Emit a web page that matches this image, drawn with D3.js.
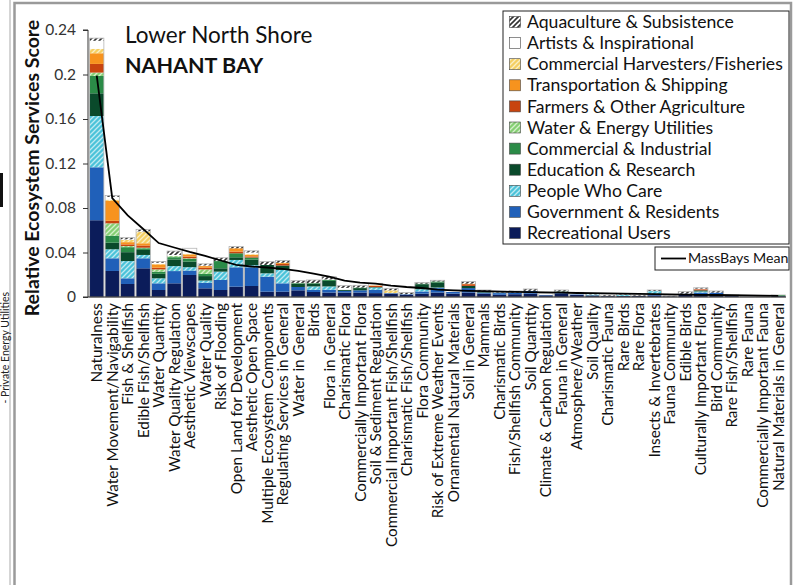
<!DOCTYPE html>
<html>
<head>
<meta charset="utf-8">
<script src="https://cdn.jsdelivr.net/npm/d3@7/dist/d3.min.js"></script>
<style>
  html, body { margin: 0; padding: 0; background: #fff; }
  svg { display: block; font-family: Lato, "Open Sans", sans-serif; }
</style>
</head>
<body>
<svg id="chart" width="793" height="585"></svg>
<script>
const categories = ["Naturalness","Water Movement/Navigability","Fish & Shellfish","Edible Fish/Shellfish","Water Quantity","Water Quality Regulation","Aesthetic Viewscapes","Water Quality","Risk of Flooding","Open Land for Development","Aesthetic Open Space","Multiple Ecosystem Components","Regulating Services in General","Water in General","Birds","Flora in General","Charismatic Flora","Commercially Important Flora","Soil & Sediment Regulation","Commercial Important Fish/Shellfish","Charismatic Fish/Shellfish","Flora Community","Risk of Extreme Weather Events","Ornamental Natural Materials","Soil in General","Mammals","Charismatic Birds","Fish/Shellfish Community","Soil Quantity","Climate & Carbon Regulation","Fauna in General","Atmosphere/Weather","Soil Quality","Charismatic Fauna","Rare Birds","Rare Flora","Insects & Invertebrates","Fauna Community","Edible Birds","Culturally Important Flora","Bird Community","Rare Fish/Shellfish","Rare Fauna","Commercially Important Fauna","Natural Materials in General"];

const seriesNames = ["Recreational Users","Government & Residents","People Who Care","Education & Research","Commercial & Industrial","Water & Energy Utilities","Farmers & Other Agriculture","Transportation & Shipping","Commercial Harvesters/Fisheries","Artists & Inspirational","Aquaculture & Subsistence"];

const recreational = [0.069,0.0234,0.0117,0.0258,0.0063,0.0123,0.0198,0.0078,0.0063,0.0093,0.0099,0.0048,0.0048,0.006,0.0045,0.004,0.004,0.004,0.0035,0.003,0.002,0.003,0.004,0.003,0.004,0.003,0.002,0.0025,0.003,0.0015,0.003,0.002,0.0015,0.0008,0.001,0.001,0.0015,0.0006,0.002,0.0025,0.0025,0.001,0.0004,0.0004,0.0008];
const government = [0.0476,0.0114,0.0051,0.009,0.006,0.011,0.004,0.005,0.009,0.0174,0.0168,0.0135,0.0075,0.003,0.002,0.0025,0.0015,0.002,0.003,0.0005,0.0005,0.002,0.004,0.0015,0.004,0.001,0.0015,0.0015,0.0025,0.0005,0.0015,0.0005,0,0,0,0,0.001,0,0.001,0.0015,0.0015,0,0,0,0];
const peopleWhoCare = [0.0461,0.0081,0.0155,0.003,0.0045,0.0045,0.003,0.002,0.0075,0.0066,0.002,0.003,0.012,0,0.003,0.003,0,0,0.002,0,0,0.002,0.0005,0,0,0,0.0005,0,0,0,0,0,0.0008,0,0.001,0,0.0028,0,0,0.001,0,0,0,0,0];
const education = [0.0204,0.0059,0.008,0.0045,0.004,0.006,0.005,0.004,0.003,0.0024,0.005,0.0075,0.004,0.003,0.0025,0.005,0.001,0.002,0.0005,0,0,0.0045,0.0045,0,0.002,0.0005,0,0,0,0,0.0005,0,0,0,0,0,0,0,0,0.001,0,0,0,0,0];
const commercialIndustrial = [0.0156,0.0063,0.0045,0.0015,0.002,0.002,0.0025,0.002,0.0065,0.0036,0.0018,0,0,0.0005,0.0005,0.001,0,0.0005,0,0,0,0.0005,0.001,0,0,0,0,0,0,0,0,0,0,0,0,0,0,0,0,0,0,0,0,0,0.001];
const waterEnergy = [0.003,0.0111,0.001,0.0005,0.002,0.001,0.0005,0.004,0,0,0,0,0,0,0,0,0,0,0,0,0,0,0,0,0,0,0,0,0,0,0,0,0,0,0,0,0,0,0,0,0,0,0,0,0];
const farmers = [0.0078,0.0023,0.0015,0.002,0.0015,0,0.0015,0.0015,0,0.0015,0.001,0,0.0015,0,0,0,0,0,0.001,0,0,0,0,0,0.0015,0,0,0,0,0,0,0,0,0,0,0,0,0,0,0.001,0,0,0,0,0];
const transportation = [0.0096,0.018,0.002,0.002,0.003,0,0.002,0.0015,0,0.003,0.0015,0,0.001,0,0,0,0,0,0.0005,0,0,0,0,0,0.0005,0,0,0,0,0,0,0,0,0,0,0,0,0,0,0,0,0,0,0,0];
const harvesters = [0.004,0.001,0.002,0.0102,0.0005,0,0.0005,0,0,0,0.0005,0,0,0,0,0,0,0,0,0.0025,0,0,0,0,0,0,0,0,0,0,0,0,0,0,0,0,0,0,0,0,0,0,0,0,0];
const artists = [0.0072,0.0025,0.0005,0.0005,0.001,0.001,0.005,0.0005,0,0,0.0015,0,0,0.0002,0,0.0003,0.0017,0,0.0013,0,0,0,0,0.0013,0,0,0,0,0,0.0013,0,0.0012,0,0,0,0,0,0,0,0.0005,0,0,0.0008,0,0];
const aquaculture = [0.0024,0.0012,0.0015,0.0018,0.0012,0.0035,0,0.0015,0.003,0.0015,0.0015,0.003,0.002,0.002,0.0028,0.0025,0.002,0.002,0.0005,0.0018,0.0015,0.001,0.001,0.0005,0.0018,0.0018,0.0014,0.0014,0.0017,0,0.0013,0.0005,0.001,0.001,0.0007,0.0008,0.001,0.0006,0.0018,0.0008,0.0014,0.0008,0,0,0];
const massBaysMean = [0.199,0.089,0.0733,0.0611,0.0485,0.0445,0.0405,0.0369,0.0328,0.0288,0.0274,0.0265,0.0252,0.0235,0.021,0.0183,0.0148,0.013,0.012,0.0103,0.009,0.0081,0.0067,0.006,0.0055,0.0052,0.0049,0.0046,0.0044,0.0041,0.0039,0.0036,0.0034,0.0032,0.003,0.0028,0.0026,0.0024,0.0022,0.002,0.0018,0.0016,0.0014,0.0012,0.001];
const yTicks = [0, 0.04, 0.08, 0.12, 0.16, 0.2, 0.24];

const seriesValues = [recreational, government, peopleWhoCare, education, commercialIndustrial, waterEnergy, farmers, transportation, harvesters, artists, aquaculture];

const fills = {
  "Recreational Users": "#0b1c5a",
  "Government & Residents": "#2060b9",
  "People Who Care": "url(#hatchCyan)",
  "Education & Research": "#0a4a2b",
  "Commercial & Industrial": "#2b8b47",
  "Water & Energy Utilities": "url(#hatchGreen)",
  "Farmers & Other Agriculture": "#c8440f",
  "Transportation & Shipping": "#f7931e",
  "Commercial Harvesters/Fisheries": "url(#hatchYellow)",
  "Artists & Inspirational": "#ffffff",
  "Aquaculture & Subsistence": "url(#hatchGray)"
};

const svg = d3.select("#chart");
const defs = svg.append("defs");
function hatch(id, bg, fg, w) {
  const p = defs.append("pattern").attr("id", id).attr("patternUnits", "userSpaceOnUse")
    .attr("width", 5).attr("height", 5);
  p.append("rect").attr("width", 5).attr("height", 5).attr("fill", bg);
  p.append("path").attr("d", "M-1,1 L1,-1 M0,5 L5,0 M4,6 L6,4")
    .attr("stroke", fg).attr("stroke-width", w);
}
hatch("hatchCyan", "#4cc3d9", "#bfeaf2", 1.3);
hatch("hatchGreen", "#86cf74", "#d5f0cc", 1.3);
hatch("hatchYellow", "#f5cf62", "#fbefc4", 1.3);
hatch("hatchGray", "#ffffff", "#333333", 1.6);

// panel decorations
svg.append("line").attr("x1", 10).attr("x2", 10).attr("y1", 0).attr("y2", 585).attr("stroke", "#aaa").attr("stroke-width", 1);
svg.append("rect").attr("x", 0).attr("y", 173).attr("width", 3).attr("height", 34).attr("fill", "#111");
svg.append("text").attr("transform", "translate(8.5,292) rotate(-90)").attr("text-anchor", "end")
  .attr("font-size", 10.5).attr("fill", "#222").text("- Private Energy Utilities");
svg.append("rect").attr("x", 14.5).attr("y", 3).attr("width", 776.5).attr("height", 620)
  .attr("fill", "none").attr("stroke", "#9a9a9a").attr("stroke-width", 2.5);

const x = d3.scaleBand().domain(categories).range([89, 786]).paddingInner(0.08).paddingOuter(0.04);
const y = d3.scaleLinear().domain([0, 0.24]).range([297, 30]);

const table = categories.map((c, i) => {
  const row = { category: c };
  seriesNames.forEach((s, k) => row[s] = seriesValues[k][i]);
  return row;
});
const stacked = d3.stack().keys(seriesNames)(table);

const g = svg.append("g");
stacked.forEach(layer => {
  g.append("g").attr("fill", fills[layer.key])
    .selectAll("rect").data(layer).join("rect")
    .attr("x", d => x(d.data.category))
    .attr("width", x.bandwidth())
    .attr("y", d => y(d[1]))
    .attr("height", d => Math.max(0, y(d[0]) - y(d[1])));
});
// bar outlines
g.append("g").selectAll("rect").data(table).join("rect")
  .attr("x", d => x(d.category))
  .attr("width", x.bandwidth())
  .attr("y", d => y(d3.sum(seriesNames, s => d[s])))
  .attr("height", d => y(0) - y(d3.sum(seriesNames, s => d[s])))
  .attr("fill", "none").attr("stroke", "#b5b5b5").attr("stroke-width", 0.8);

// mean line
const line = d3.line().x((d, i) => x(categories[i]) + x.bandwidth() / 2).y(d => y(d));
svg.append("path").datum(massBaysMean).attr("d", line)
  .attr("fill", "none").attr("stroke", "#000").attr("stroke-width", 1.8);

// axes
const yAxis = d3.axisLeft(y).tickValues(yTicks).tickSize(5).tickPadding(7)
  .tickFormat(d => d3.format("~g")(d));
const ya = svg.append("g").attr("transform", "translate(88,0)").call(yAxis);
ya.select(".domain").attr("stroke", "#333").attr("d", "M-5,30H0V297H-5");
ya.selectAll(".tick line").attr("stroke", "#333");
ya.selectAll(".tick text").attr("font-family", "Lato, sans-serif").attr("font-size", 15.5).attr("fill", "#333");

const xa = svg.append("g").attr("transform", "translate(0,297)").call(d3.axisBottom(x).tickSize(0).tickPadding(6));
xa.select(".domain").attr("stroke", "#222").attr("d", "M88,0H786");
xa.selectAll(".tick text")
  .attr("font-family", "Lato, sans-serif").attr("font-size", 15.3).attr("fill", "#111")
  .attr("transform", "rotate(-90)").attr("text-anchor", "end")
  .attr("x", -6).attr("y", 0).attr("dy", "0.36em");

// y axis title
svg.append("text").attr("transform", "translate(39,168) rotate(-90)").attr("text-anchor", "middle")
  .attr("font-size", 19.5).attr("font-weight", "bold").attr("fill", "#111")
  .text("Relative Ecosystem Services Score");

// titles
svg.append("text").attr("x", 125).attr("y", 43).attr("font-size", 22.5).attr("fill", "#111").text("Lower North Shore");
svg.append("text").attr("x", 125).attr("y", 73).attr("font-size", 21.5).attr("font-weight", "bold").attr("fill", "#111").text("NAHANT BAY");

// legend
const legendOrder = seriesNames.slice().reverse();
const lg = svg.append("g");
lg.append("rect").attr("x", 503).attr("y", 11).attr("width", 286).attr("height", 233)
  .attr("fill", "#fff").attr("stroke", "#222").attr("stroke-width", 1);
legendOrder.forEach((s, i) => {
  const cy = 22 + i * 21.1;
  lg.append("rect").attr("x", 509.5).attr("y", cy - 5.5).attr("width", 11).attr("height", 11)
    .attr("fill", fills[s]).attr("stroke", "#444").attr("stroke-width", 0.6);
  lg.append("text").attr("x", 527).attr("y", cy).attr("dy", "0.35em")
    .attr("font-size", 17.6).attr("fill", "#111").text(s);
});
lg.append("rect").attr("x", 655).attr("y", 247).attr("width", 134).attr("height", 23)
  .attr("fill", "#fff").attr("stroke", "#222").attr("stroke-width", 1);
lg.append("line").attr("x1", 661).attr("x2", 686).attr("y1", 258.5).attr("y2", 258.5).attr("stroke", "#000").attr("stroke-width", 1.8);
lg.append("text").attr("x", 688).attr("y", 258.5).attr("dy", "0.35em").attr("font-size", 14.2).attr("fill", "#111")
  .text("MassBays Mean");
</script>
</body>
</html>
